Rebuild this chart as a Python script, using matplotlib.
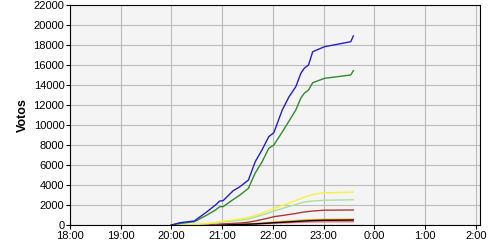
import matplotlib
matplotlib.use("Agg")
import matplotlib.pyplot as plt

plt.rcParams['font.family'] = ['Liberation Sans', 'DejaVu Sans']

# dados (hora, votos)
horas = ["20:00", "20:10", "20:27", "20:42", "20:52", "20:57", "21:01", "21:13",
         "21:21", "21:31", "21:39", "21:47", "21:55", "22:01", "22:11", "22:19",
         "22:27", "22:33", "22:37", "22:42", "22:47", "23:01", "23:32", "23:35"]

azul = [0, 230, 400, 1330, 2000, 2400, 2430, 3430, 3830, 4500, 6330, 7500,
        8830, 9230, 11500, 12830, 13830, 15170, 15670, 16000, 17330, 17830, 18330, 18900]
verde = [0, 150, 330, 1000, 1500, 1830, 1830, 2550, 3000, 3670, 5200, 6300,
         7670, 8000, 9300, 10400, 11500, 12700, 13170, 13500, 14230, 14670, 15000, 15430]
amarelo = [0, 20, 60, 150, 250, 320, 380, 500, 600, 750, 950, 1200,
           1450, 1650, 1950, 2200, 2450, 2650, 2800, 2900, 3050, 3230, 3280, 3300]
verde_claro = [0, 10, 40, 120, 200, 260, 300, 400, 480, 600, 800, 1000,
               1200, 1400, 1650, 1850, 2050, 2200, 2300, 2350, 2400, 2470, 2520, 2530]
vermelho_escuro = [0, 5, 15, 40, 70, 90, 110, 160, 200, 280, 400, 550,
                   700, 830, 950, 1050, 1150, 1250, 1300, 1350, 1400, 1480, 1500, 1500]
laranja = [0, 0, 5, 15, 25, 35, 40, 60, 80, 110, 150, 200,
           250, 300, 350, 400, 440, 480, 500, 520, 540, 560, 570, 570]
vermelho = [0, 0, 2, 8, 14, 18, 22, 35, 45, 60, 85, 110,
            140, 170, 200, 230, 260, 280, 290, 300, 310, 320, 330, 330]
preto = [0, 0, 3, 10, 18, 25, 30, 45, 60, 80, 110, 150,
         190, 230, 270, 310, 350, 380, 400, 420, 440, 470, 490, 500]

rotulos_x = ["18:00", "19:00", "20:00", "21:00", "22:00", "23:00", "0:00", "1:00", "2:00"]


def para_horas(h):
    hh, mm = h.split(":")
    return int(hh) + int(mm) / 60


t = [para_horas(h) for h in horas]

fig = plt.figure(figsize=(5, 2.5), dpi=100)
ax = fig.add_axes([0.14, 0.1, 0.82, 0.88])
ax.set_facecolor("#f4f4f4")

series = [
    (vermelho, "#f07070"),
    (laranja, "#f0a020"),
    (preto, "#000000"),
    (vermelho_escuro, "#a83c3c"),
    (verde_claro, "#a8e0a0"),
    (amarelo, "#f8f040"),
    (verde, "#2e8b2e"),
    (azul, "#2020d0"),
]
for y, cor in series:
    ax.plot(t, y, color=cor, lw=1.0)

ax.set_xlim(18, 26.08)
ax.set_ylim(0, 22000)
ax.set_xticks(range(18, 27))
ax.set_xticklabels(rotulos_x)
ax.set_yticks(range(0, 22001, 2000))
ax.grid(True, color="#bcbcbc", lw=0.8)
ax.set_axisbelow(True)
ax.tick_params(labelsize=8, length=3, width=0.8, pad=1)
for s in ax.spines.values():
    s.set_color("black")
    s.set_linewidth(0.8)
ax.set_ylabel("Votos", fontsize=9, fontweight="bold", labelpad=3)

fig.savefig("out.png", dpi=100)
